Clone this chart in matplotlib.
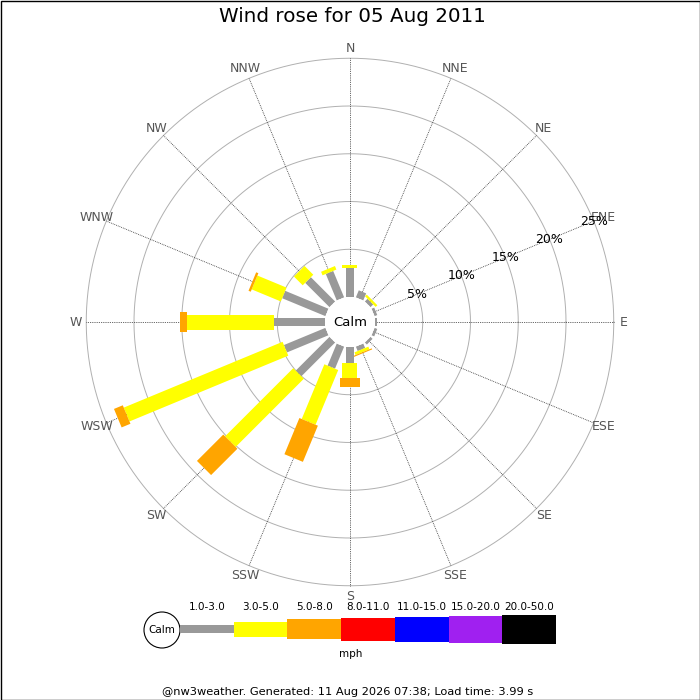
import numpy as np
import matplotlib
matplotlib.use("Agg")
import matplotlib.pyplot as plt
from matplotlib.patches import Polygon, Circle, Rectangle

# Valores (percentual de tempo por direção e faixa de velocidade)
direcoes = ['N', 'NNE', 'NE', 'ENE', 'E', 'ESE', 'SE', 'SSE',
            'S', 'SSW', 'SW', 'WSW', 'W', 'WNW', 'NW', 'NNW']
pct_1_3 = [3.0, 0.8, 0.4, 0.3, 0.2, 0.3, 0.3, 0.5, 1.7, 2.5, 5.0, 4.7, 5.3, 4.9, 3.6, 3.0]
pct_3_5 = [0.35, 0.0, 0.25, 0.0, 0.0, 0.0, 0.0, 0.3, 1.5, 6.2, 10.1, 18.0, 9.2, 3.3, 1.3, 0.4]
pct_5_8 = [0.0, 0.0, 0.0, 0.0, 0.0, 0.0, 0.0, 0.12, 1.0, 4.1, 3.9, 1.0, 0.7, 0.25, 0.0, 0.0]
faixas = ['1.0-3.0', '3.0-5.0', '5.0-8.0', '8.0-11.0', '11.0-15.0', '15.0-20.0', '20.0-50.0']
aneis = [5, 10, 15, 20, 25]

cores = ['#999999', '#ffff00', '#ffa500', '#ff0000', '#0000ff', '#a020f0', '#000000']
larguras_px = [8, 15, 20, 23, 25, 27, 29]

px = 9.55          # pixels por 1%
r0 = 25 / px       # raio do círculo "Calm" em unidades de %
cx, cy = 350, 322  # centro da rosa em pixels

fig = plt.figure(figsize=(7, 7), dpi=100)
ax = fig.add_axes([0, 0, 1, 1])
ax.set_xlim(-cx / px, (700 - cx) / px)
ax.set_ylim(-(700 - cy) / px, cy / px)
ax.set_aspect('equal')
ax.axis('off')

# Anéis e linhas radiais
t = np.linspace(0, 2 * np.pi, 400)
for a in aneis:
    ax.plot((r0 + a) * np.cos(t), (r0 + a) * np.sin(t), color='#b0b0b0', lw=0.7, zorder=1)

r_max = r0 + aneis[-1]
for i, nome in enumerate(direcoes):
    th = np.radians(i * 22.5)
    d = np.array([np.sin(th), np.cos(th)])
    ax.plot([r0 * d[0], r_max * d[0]], [r0 * d[1], r_max * d[1]],
            color='#333333', lw=0.6, ls=(0, (1, 1.2)), zorder=1)
    ax.text(274 / px * d[0], 274 / px * d[1], nome, ha='center', va='center',
            fontsize=9, color='#555555')

# Barras
series = [pct_1_3, pct_3_5, pct_5_8]
for i in range(len(direcoes)):
    th = np.radians(i * 22.5)
    d = np.array([np.sin(th), np.cos(th)])
    p = np.array([np.cos(th), -np.sin(th)])
    r_a = r0
    for k, serie in enumerate(series):
        v = serie[i]
        if v <= 0:
            continue
        r_b = r_a + v
        w = larguras_px[k] / px / 2
        cantos = [r_a * d + w * p, r_b * d + w * p, r_b * d - w * p, r_a * d - w * p]
        ax.add_patch(Polygon(cantos, closed=True, facecolor=cores[k], edgecolor='none', zorder=3))
        r_a = r_b

ax.add_patch(Circle((0, 0), r0, facecolor='white', edgecolor='none', zorder=4))
ax.text(0, 0, 'Calm', ha='center', va='center', fontsize=9.5, zorder=5)

# Rótulos de percentual ao longo de ENE
th = np.radians(67.5)
for a in aneis:
    ax.text((r0 + a) * np.sin(th), (r0 + a) * np.cos(th), f'{a}%', ha='center', va='center',
            fontsize=9, zorder=5)

# Legenda e textos em coordenadas de pixel
lx = fig.add_axes([0, 0, 1, 1], zorder=10)
lx.set_xlim(0, 700)
lx.set_ylim(700, 0)
lx.axis('off')
lx.patch.set_alpha(0)

lx.add_patch(Circle((162, 630), 18, facecolor='white', edgecolor='black', lw=0.8))
lx.text(162, 630, 'Calm', ha='center', va='center', fontsize=7.5)
x0, passo = 180, 53.7
for k, faixa in enumerate(faixas):
    h = larguras_px[k]
    lx.add_patch(Rectangle((x0 + k * passo, 629 - h / 2), passo, h, facecolor=cores[k], edgecolor='none'))
    lx.text(x0 + (k + 0.5) * passo, 607, faixa, ha='center', va='center', fontsize=7.5)
lx.text(351, 654, 'mph', ha='center', va='center', fontsize=7.5)

lx.text(352, 17, 'Wind rose for 05 Aug 2011', ha='center', va='center', fontsize=14.3)
lx.text(348, 692, '@nw3weather. Generated: 11 Aug 2026 07:38; Load time: 3.99 s',
        ha='center', va='center', fontsize=8.2)
lx.add_patch(Rectangle((0.5, 0.5), 699, 699, facecolor='none', edgecolor='black', lw=1))

fig.savefig('out.png', dpi=100)
